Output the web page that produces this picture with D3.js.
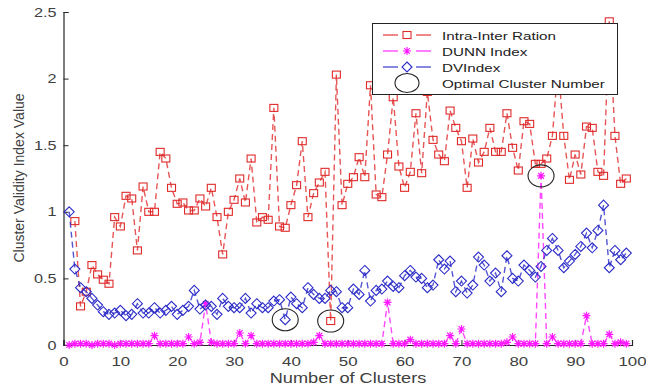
<!DOCTYPE html>
<html><head><meta charset="utf-8">
<script src="https://cdn.jsdelivr.net/npm/d3@7"></script>
<style>html,body{margin:0;padding:0;background:#fff;} svg{display:block;font-family:"Liberation Sans",Arial,sans-serif;}</style>
</head><body>
<svg id="c" width="646" height="388"></svg>
<script>
// Intra-Inter Ration, clusters 2..99
const redX = d3.range(2, 100);
const redVals = [0.93,0.29,0.40,0.60,0.53,0.49,0.46,0.96,0.89,1.12,1.10,0.71,1.19,1.00,1.00,1.45,1.40,1.18,1.06,1.07,
1.01,1.01,1.10,1.04,1.18,0.96,0.68,1.00,1.09,1.25,1.07,1.40,0.92,0.96,0.94,1.78,0.89,0.88,1.05,1.20,
1.53,0.96,1.14,1.22,1.30,0.18,2.03,1.05,1.21,1.26,1.41,1.26,1.95,1.13,1.11,1.43,1.86,1.34,1.18,1.30,
1.74,1.29,1.90,1.54,1.43,1.38,1.76,1.63,1.53,1.18,1.55,1.37,1.45,1.63,1.45,1.45,1.74,1.48,1.31,1.68,
1.66,1.36,1.36,1.40,1.57,2.10,1.57,1.24,1.43,1.28,1.64,1.63,1.30,1.27,2.43,1.57,1.21,1.25];
// DUNN Index, clusters 1..99
const dunnX = d3.range(1, 100);
const dunnVals = [0.00,0.01,0.01,0.01,0.00,0.01,0.01,0.01,0.00,0.01,0.01,0.01,0.01,0.01,0.01,0.07,0.01,0.01,0.01,0.01,
0.01,0.06,0.01,0.02,0.31,0.02,0.01,0.01,0.01,0.01,0.09,0.01,0.07,0.01,0.01,0.01,0.01,0.01,0.01,0.01,
0.01,0.01,0.01,0.02,0.07,0.01,0.01,0.01,0.01,0.01,0.01,0.01,0.01,0.01,0.01,0.01,0.32,0.01,0.01,0.01,
0.04,0.01,0.01,0.01,0.01,0.01,0.01,0.07,0.01,0.12,0.01,0.01,0.01,0.01,0.01,0.01,0.01,0.02,0.06,0.01,
0.01,0.01,0.01,1.27,0.01,0.06,0.01,0.01,0.01,0.01,0.01,0.22,0.01,0.01,0.01,0.08,0.01,0.02,0.01];
// DVIndex, clusters 1..99
const dvX = d3.range(1, 100);
const dvVals = [1.00,0.57,0.43,0.40,0.35,0.30,0.25,0.23,0.24,0.26,0.22,0.23,0.31,0.24,0.24,0.28,0.24,0.26,0.29,0.23,
0.26,0.29,0.41,0.27,0.30,0.29,0.23,0.35,0.29,0.28,0.28,0.35,0.24,0.31,0.28,0.28,0.33,0.34,0.19,0.36,
0.31,0.28,0.43,0.38,0.35,0.35,0.41,0.40,0.28,0.28,0.42,0.38,0.56,0.33,0.41,0.42,0.48,0.44,0.43,0.52,
0.56,0.51,0.50,0.43,0.45,0.64,0.57,0.63,0.40,0.48,0.39,0.45,0.66,0.60,0.48,0.54,0.40,0.67,0.50,0.48,
0.60,0.56,0.51,0.59,0.71,0.80,0.71,0.58,0.63,0.68,0.74,0.84,0.73,0.86,1.05,0.58,0.71,0.64,0.69];
// Optimal cluster numbers (circled)
const optimal = [{x:39, v:0.19}, {x:47, v:0.18}, {x:84, v:1.27}];
const xTicks = [0,10,20,30,40,50,60,70,80,90,100];
const yTicks = [0,0.5,1,1.5,2,2.5];
const legendLabels = ["Intra-Inter Ration","DUNN Index","DVIndex","Optimal Cluster Number"];

const SX = 1.3; // horizontal stretch of text seen in the reference
const svg = d3.select("#c");
const x = d3.scaleLinear().domain([0,100]).range([63.5,632]);
const y = d3.scaleLinear().domain([0,2.5]).range([345,12]);
const RED="#e02a2a", MAG="#ff1aff", BLUE="#2b2bc8";

const xa = svg.append("g").attr("transform","translate(0,345)")
  .call(d3.axisBottom(x).tickValues(xTicks).tickSize(-5).tickPadding(12).tickFormat(d3.format("d")));
const ya = svg.append("g").attr("transform","translate(63.5,0)")
  .call(d3.axisLeft(y).tickValues(yTicks).tickSize(-5).tickPadding(7).tickFormat(d=>String(d)));
[xa,ya].forEach(a=>{
  a.selectAll("path").attr("stroke","#262626").attr("stroke-width",1.2);
  a.selectAll("line").attr("stroke","#262626");
  a.selectAll("text").attr("fill","#404040").style("font-size","13px").style("font-family","'Liberation Sans',Arial,sans-serif");
});
xa.selectAll(".tick text").attr("transform",`scale(${SX},1)`);
ya.selectAll(".tick text").attr("x",-7/SX).attr("transform",`scale(${SX},1)`).style("font-size","12.5px");

svg.append("text").attr("transform",`translate(348,383) scale(${SX},1)`).attr("text-anchor","middle")
  .attr("fill","#404040").style("font-size","14px").text("Number of Clusters");
svg.append("text").attr("transform","translate(24,178) rotate(-90)").attr("text-anchor","middle")
  .attr("fill","#404040").style("font-size","14px").text("Cluster Validity Index Value");

function series(xs, vals, color, marker){
  const pts = xs.map((d,i)=>({x:d, v:vals[i]}));
  const line = d3.line().x(d=>x(d.x)).y(d=>y(d.v));
  svg.append("path").datum(pts).attr("d",line).attr("fill","none")
    .attr("stroke",color).attr("stroke-opacity",0.8).attr("stroke-width",1.4).attr("stroke-dasharray","6,4");
  const g = svg.append("g");
  pts.forEach(p=>marker(g, x(p.x), y(p.v), color));
}
function square(g,cx,cy,c){ g.append("rect").attr("x",cx-4).attr("y",cy-3.5).attr("width",8).attr("height",7)
  .attr("fill","none").attr("stroke",c).attr("stroke-width",1.1); }
function diamond(g,cx,cy,c){ g.append("path").attr("d",`M${cx},${cy-5}L${cx+5},${cy}L${cx},${cy+5}L${cx-5},${cy}Z`)
  .attr("fill","none").attr("stroke",c).attr("stroke-width",1.1); }
function star(g,cx,cy,c){ const r=4, s=r*0.72;
  g.append("path").attr("d",`M${cx-r},${cy}L${cx+r},${cy}M${cx},${cy-r}L${cx},${cy+r}M${cx-s},${cy-s}L${cx+s},${cy+s}M${cx-s},${cy+s}L${cx+s},${cy-s}`)
  .attr("stroke",c).attr("stroke-width",1.2); }

series(redX, redVals, RED, square);
series(dunnX, dunnVals, MAG, star);
series(dvX, dvVals, BLUE, diamond);

optimal.forEach(o=>{
  svg.append("ellipse").attr("cx",x(o.x)).attr("cy",y(o.v)).attr("rx",13).attr("ry",11)
    .attr("fill","none").attr("stroke","#222").attr("stroke-width",1.1);
});

// legend
const lg = svg.append("g");
lg.append("rect").attr("x",372.5).attr("y",23.5).attr("width",245).attr("height",71)
  .attr("fill","#fff").attr("stroke","#222").attr("stroke-width",1);
const rowsY = [35,51,67,83];
const cols = [RED,MAG,BLUE];
const marks = [square,star,diamond];
legendLabels.forEach((t,i)=>{
  const yy = rowsY[i];
  if(i<3){
    lg.append("line").attr("x1",383).attr("x2",398).attr("y1",yy).attr("y2",yy).attr("stroke",cols[i]).attr("stroke-width",1.4).attr("stroke-opacity",0.8);
    lg.append("line").attr("x1",416).attr("x2",431).attr("y1",yy).attr("y2",yy).attr("stroke",cols[i]).attr("stroke-width",1.4).attr("stroke-opacity",0.8);
    marks[i](lg,407,yy,cols[i]);
  } else {
    lg.append("ellipse").attr("cx",407).attr("cy",yy).attr("rx",12).attr("ry",9.5).attr("fill","none").attr("stroke","#222").attr("stroke-width",1.1);
  }
  lg.append("text").attr("transform",`translate(442,${yy+4.5}) scale(${SX},1)`).attr("fill","#222").style("font-size","11.7px").text(t);
});
</script>
</body></html>
